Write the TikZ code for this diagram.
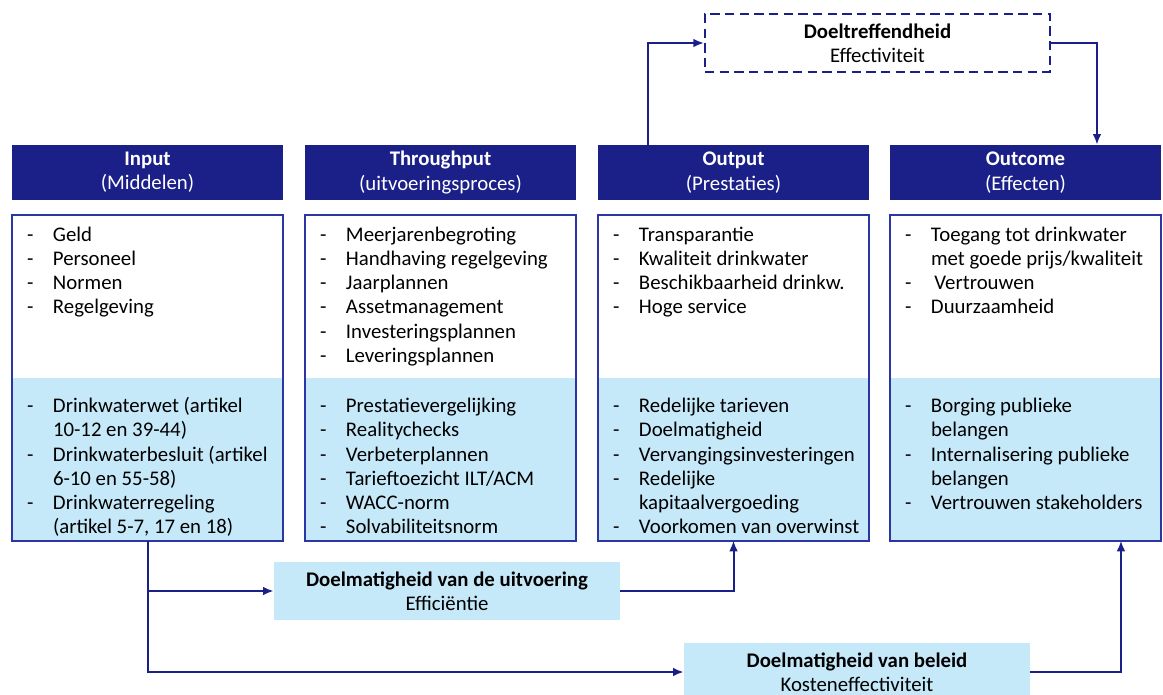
\documentclass[tikz,border=0pt]{standalone}
\usepackage{fontspec}
\setmainfont{Carlito}
\usepackage{xcolor}
\usetikzlibrary{arrows.meta}
\definecolor{navy}{HTML}{1B2089}
\definecolor{lightblue}{HTML}{C6E9FA}
\definecolor{boxblue}{HTML}{2B35A3}
\newcommand{\bodyfont}{\fontsize{15.6}{18.2}\selectfont}
\newcommand{\lst}[1]{\begin{tabular}{@{}p{19.5pt}@{}l@{}}#1\end{tabular}}

\begin{document}
\begin{tikzpicture}[x=0.75pt,y=-0.75pt]
	\useasboundingbox (0,0) rectangle (1163,695);
	% headers
	\begin{scope}[every node/.style={fill=navy,text=white,minimum width=203.25pt,minimum height=41.25pt,inner sep=0pt,align=center,font=\bodyfont}]
		\node (inH) at (147.5,172.5) {\textbf{Input}\\(Middelen)};
		\node (thrH) at (440.5,172.5) {\textbf{Throughput}\\(uitvoeringsproces)};
		\node (outH) at (733.5,172.5) {\textbf{Output}\\(Prestaties)};
		\node (outcH) at (1025.5,172.5) {\textbf{Outcome}\\(Effecten)};
	\end{scope}
	
	% content boxes
	\begin{scope}[every node/.style={minimum width=203.25pt,minimum height=122pt,inner sep=0pt}]
		\node (inTop) at (147.5,296.5) {};
		\node[fill=lightblue] (inBot) at (147.5,459) {};
		\node (thrTop) at (440.5,296.5) {};
		\node[fill=lightblue] (thrBot) at (440.5,459) {};
		\node (outTop) at (733.5,296.5) {};
		\node[fill=lightblue] (outBot) at (733.5,459) {};
		\node (outcTop) at (1025.5,296.5) {};
		\node[fill=lightblue] (outcBot) at (1025.5,459) {};
	\end{scope}
	\begin{scope}[boxblue,line width=1.5pt]
		\draw (inTop.north west) rectangle (inBot.south east);
		\draw (thrTop.north west) rectangle (thrBot.south east);
		\draw (outTop.north west) rectangle (outBot.south east);
		\draw (outcTop.north west) rectangle (outcBot.south east);
	\end{scope}
	
	% lists
	\begin{scope}[every node/.style={anchor=north west,inner sep=0pt,align=left,font=\bodyfont}]
		\node (inL1) at ([xshift=11.25pt,yshift=-6.75pt]inTop.north west) {\lst{
			- & Geld\\ - & Personeel\\ - & Normen\\ - & Regelgeving}};
		\node (inL2) at ([xshift=11.25pt,yshift=-13.5pt]inBot.north west) {\lst{
			- & Drinkwaterwet (artikel\\ & 10-12 en 39-44)\\
			- & Drinkwaterbesluit (artikel\\ & 6-10 en 55-58)\\
			- & Drinkwaterregeling\\ & (artikel 5-7, 17 en 18)}};
		\node (thrL1) at ([xshift=11.25pt,yshift=-6.75pt]thrTop.north west) {\lst{
			- & Meerjarenbegroting\\ - & Handhaving regelgeving\\ - & Jaarplannen\\
			- & Assetmanagement\\ - & Investeringsplannen\\ - & Leveringsplannen}};
		\node (thrL2) at ([xshift=11.25pt,yshift=-13.5pt]thrBot.north west) {\lst{
			- & Prestatievergelijking\\ - & Realitychecks\\ - & Verbeterplannen\\
			- & Tarieftoezicht ILT/ACM\\ - & WACC-norm\\ - & Solvabiliteitsnorm}};
		\node (outL1) at ([xshift=11.25pt,yshift=-6.75pt]outTop.north west) {\lst{
			- & Transparantie\\ - & Kwaliteit drinkwater\\
			- & Beschikbaarheid drinkw.\\ - & Hoge service}};
		\node (outL2) at ([xshift=11.25pt,yshift=-13.5pt]outBot.north west) {\lst{
			- & Redelijke tarieven\\ - & Doelmatigheid\\ - & Vervangingsinvesteringen\\
			- & Redelijke\\ & kapitaalvergoeding\\ - & Voorkomen van overwinst}};
		\node (outcL1) at ([xshift=11.25pt,yshift=-6.75pt]outcTop.north west) {\lst{
			- & Toegang tot drinkwater\\ & met goede prijs/kwaliteit\\
			- & \,Vertrouwen\\ - & Duurzaamheid}};
		\node (outcL2) at ([xshift=11.25pt,yshift=-13.5pt]outcBot.north west) {\lst{
			- & Borging publieke\\ & belangen\\ - & Internalisering publieke\\
			& belangen\\ - & Vertrouwen stakeholders}};
	\end{scope}
	
	% efficiency boxes
	\node[draw=navy,line width=1.5pt,dash pattern=on 7pt off 4pt,fill=white,minimum width=258.75pt,minimum height=43.5pt,align=center,font=\bodyfont] (doel) at (877.5,43) {\textbf{Doeltreffendheid}\\Effectiviteit};
	\begin{scope}[every node/.style={fill=lightblue,minimum width=259.5pt,minimum height=43.5pt,align=center,font=\bodyfont}]
		\node (uitv) at (447,591) {\textbf{Doelmatigheid van de uitvoering}\\Effici\"entie};
		\node (bel) at (857,672) {\textbf{Doelmatigheid van beleid}\\Kosteneffectiviteit};
	\end{scope}
	
	% connectors
	\begin{scope}[navy,line width=1.5pt,>={Latex[length=8pt,width=6.5pt]}]
		\draw[->] ([xshift=-64.5pt]outH.north) |- (doel.west);
		\draw[->] (doel.east) -| ([xshift=53.6pt]outcH.north);
		\draw[->] (inBot.south) |- (uitv.west);
		\draw[->] (inBot.south) |- (bel.west);
		\draw[->] (uitv.east) -| (outBot.south);
		\draw[->] (bel.east) -| ([xshift=71.6pt]outcBot.south);
	\end{scope}
\end{tikzpicture}
\end{document}
